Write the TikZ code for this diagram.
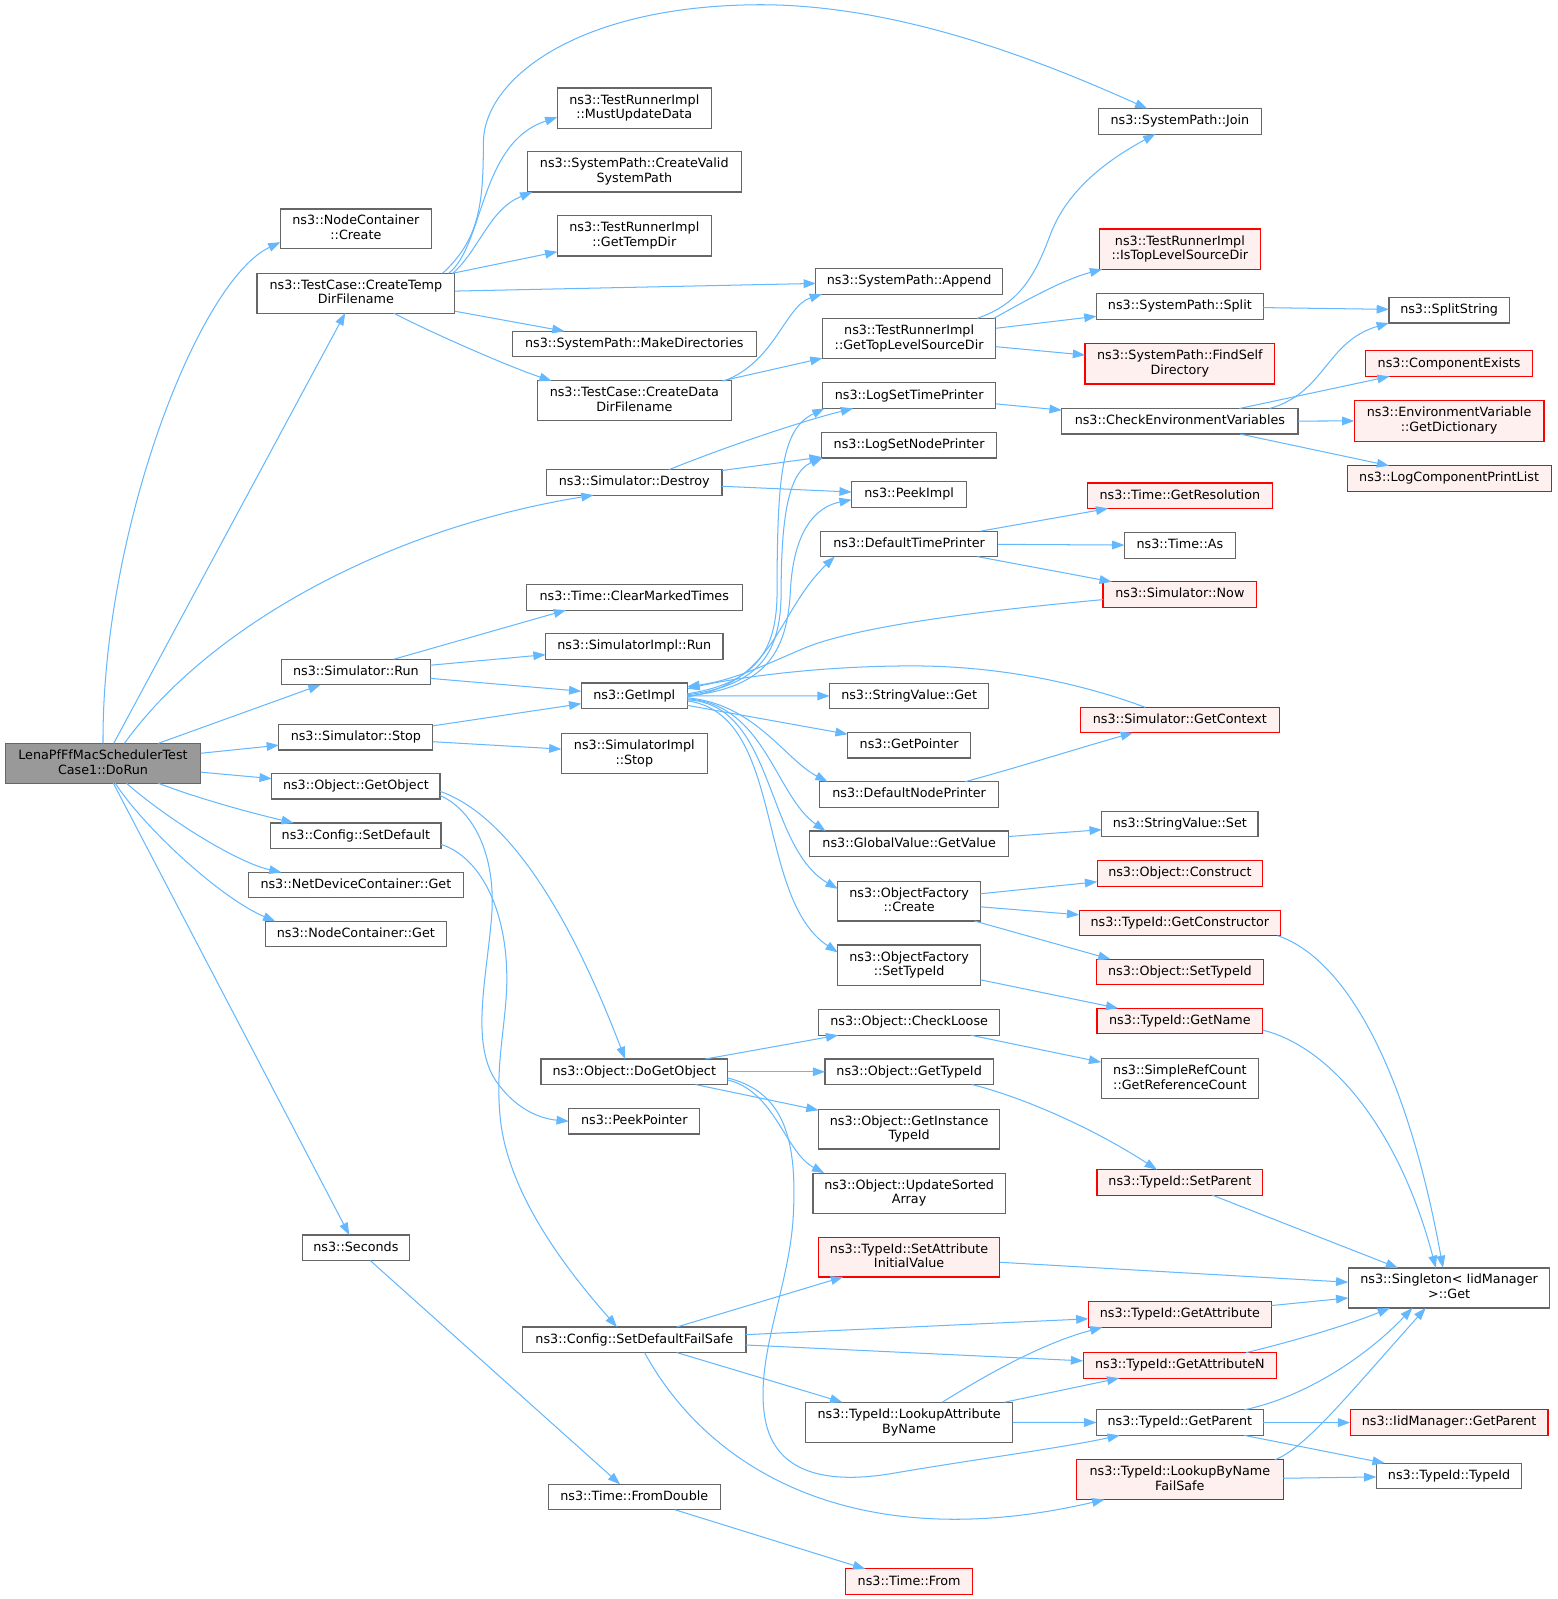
\documentclass[tikz,border=0pt]{standalone}
\usepackage{fontspec}
\setmainfont{DejaVu Sans}
\usetikzlibrary{arrows.meta}
\definecolor{edgec}{HTML}{63B8FF}
\definecolor{boxgray}{HTML}{666666}
\definecolor{boxred}{HTML}{FF0000}
\definecolor{redfill}{HTML}{FFF0F0}
\definecolor{rootfill}{HTML}{999999}
\tikzset{
  gbox/.style={rectangle, draw=boxgray, line width=1.1pt, fill=white, inner sep=0pt, outer sep=0pt,
    align=center, font=\fontsize{12.5}{14.5}\selectfont, text height=9.3pt, text depth=2.7pt},
  two/.style={text height=23.8pt, text depth=2.7pt},
  rbox/.style={gbox, draw=boxred, fill=redfill},
  rootbox/.style={gbox, fill=rootfill},
  conn/.style={draw=edgec, line width=1pt, -{Triangle[length=12pt,width=8.5pt]}},
}
\newcommand\dxnode[6]{\node[#1,minimum width=#4pt,minimum height=#5pt] (#2) at (#3) {#6};}
\begin{document}
\begin{tikzpicture}[x=1pt,y=-1pt]
\fill[white] (0,0) rectangle (1527,1568);
\useasboundingbox (0,0) rectangle (1527,1568);

% column 0/1
\dxnode{rootbox,two}{root}{101,748.5}{192}{39}{LenaPfFfMacSchedulerTest\\Case1::DoRun}
\dxnode{gbox,two}{ncc}{349,224.5}{148}{39}{ns3::NodeContainer\\::Create}
\dxnode{gbox,two}{ctmp}{349,287.5}{194}{39}{ns3::TestCase::CreateTemp\\DirFilename}
\dxnode{gbox}{srun}{349,659}{146}{25}{ns3::Simulator::Run}
\dxnode{gbox}{sstop}{349,723}{151}{25}{ns3::Simulator::Stop}
\dxnode{gbox}{gobj}{349,771}{165}{25}{ns3::Object::GetObject}
\dxnode{gbox}{sdef}{349,819.5}{167}{25}{ns3::Config::SetDefault}
\dxnode{gbox}{ndg}{349,868}{211}{25}{ns3::NetDeviceContainer::Get}
\dxnode{gbox}{ncg}{349,916}{178}{25}{ns3::NodeContainer::Get}
\dxnode{gbox}{secs}{349,1223.5}{105}{25}{ns3::Seconds}

% column 2
\dxnode{gbox,two}{mud}{622,106}{151}{39.5}{ns3::TestRunnerImpl\\::MustUpdateData}
\dxnode{gbox,two}{cvsp}{622,168.5}{210}{39.5}{ns3::SystemPath::CreateValid\\SystemPath}
\dxnode{gbox,two}{gtd}{622,231.3}{151}{39.5}{ns3::TestRunnerImpl\\::GetTempDir}
\dxnode{gbox}{mkd}{622,337.3}{239}{25}{ns3::SystemPath::MakeDirectories}
\dxnode{gbox,two}{cddf}{622,393}{190}{39}{ns3::TestCase::CreateData\\DirFilename}
\dxnode{gbox}{sdes}{622,473}{172}{25}{ns3::Simulator::Destroy}
\dxnode{gbox}{cmt}{622,585.8}{212}{25}{ns3::Time::ClearMarkedTimes}
\dxnode{gbox}{sirun}{622,634}{174}{25}{ns3::SimulatorImpl::Run}
\dxnode{gbox}{gimpl}{622,682.3}{104}{25}{ns3::GetImpl}
\dxnode{gbox,two}{sistop}{622,738.7}{143}{39.5}{ns3::SimulatorImpl\\::Stop}
\dxnode{gbox}{dgo}{622,1051}{183}{25}{ns3::Object::DoGetObject}
\dxnode{gbox}{ppt}{622,1099.5}{128.5}{25}{ns3::PeekPointer}
\dxnode{gbox}{sdfs}{622,1313.8}{219}{25}{ns3::Config::SetDefaultFailSafe}
\dxnode{gbox}{tfd}{622,1468}{169}{25}{ns3::Time::FromDouble}

% column 3
\dxnode{gbox}{app}{891.5,276}{183}{25}{ns3::SystemPath::Append}
\dxnode{gbox,two}{gtlsd}{891.5,332}{170}{39.5}{ns3::TestRunnerImpl\\::GetTopLevelSourceDir}
\dxnode{gbox}{lstp}{891.5,388}{170}{25}{ns3::LogSetTimePrinter}
\dxnode{gbox}{lsnp}{891.5,436.6}{171.6}{25}{ns3::LogSetNodePrinter}
\dxnode{gbox}{pki}{891.5,485}{112.7}{25}{ns3::PeekImpl}
\dxnode{gbox}{dtp}{891.5,533.3}{174}{25}{ns3::DefaultTimePrinter}
\dxnode{gbox}{svg}{891.5,682.5}{156}{25}{ns3::StringValue::Get}
\dxnode{gbox}{gptr}{891.5,730.8}{120.5}{25}{ns3::GetPointer}
\dxnode{gbox}{dnp}{891.5,779}{175}{25}{ns3::DefaultNodePrinter}
\dxnode{gbox}{ggv}{891.5,827.4}{195}{25}{ns3::GlobalValue::GetValue}
\dxnode{gbox,two}{ofc}{891.5,883.6}{140}{39}{ns3::ObjectFactory\\::Create}
\dxnode{gbox,two}{ofst}{891.5,946.4}{140}{39.5}{ns3::ObjectFactory\\::SetTypeId}
\dxnode{gbox}{chl}{891.5,1002.6}{177.7}{25}{ns3::Object::CheckLoose}
\dxnode{gbox}{ogt}{891.5,1051}{165}{25}{ns3::Object::GetTypeId}
\dxnode{gbox,two}{ogit}{891.5,1107.2}{177.7}{39}{ns3::Object::GetInstance\\TypeId}
\dxnode{gbox,two}{usa}{891.5,1170}{188.5}{39.3}{ns3::Object::UpdateSorted\\Array}
\dxnode{rbox,two}{tsaiv}{891.5,1232.7}{178}{39}{ns3::TypeId::SetAttribute\\InitialValue}
\dxnode{gbox,two}{tlabn}{891.5,1394.7}{203}{39.3}{ns3::TypeId::LookupAttribute\\ByName}
\dxnode{rbox}{tfrom}{891.5,1551}{124.3}{25}{ns3::Time::From}

% column 4
\dxnode{gbox}{join}{1157,119}{159.4}{25}{ns3::SystemPath::Join}
\dxnode{rbox,two}{itlsd}{1157,244.3}{158.5}{39.5}{ns3::TestRunnerImpl\\::IsTopLevelSourceDir}
\dxnode{gbox}{split}{1157,300.5}{163.5}{25}{ns3::SystemPath::Split}
\dxnode{rbox,two}{fsd}{1157,356.8}{186}{39.5}{ns3::SystemPath::FindSelf\\Directory}
\dxnode{gbox}{cev}{1157,413.1}{231.7}{25}{ns3::CheckEnvironmentVariables}
\dxnode{rbox}{gres}{1157,486.1}{181.7}{25}{ns3::Time::GetResolution}
\dxnode{gbox}{tas}{1157,534.8}{108.7}{25}{ns3::Time::As}
\dxnode{rbox}{snow}{1157,583}{150.7}{25}{ns3::Simulator::Now}
\dxnode{rbox}{sgc}{1157,706.1}{195}{25}{ns3::Simulator::GetContext}
\dxnode{gbox}{svs}{1157,808}{153.2}{25}{ns3::StringValue::Set}
\dxnode{rbox}{ocon}{1157,856.4}{162.3}{25}{ns3::Object::Construct}
\dxnode{rbox}{tgc}{1157,905}{197.4}{25}{ns3::TypeId::GetConstructor}
\dxnode{rbox}{ost}{1157,953.1}{163.6}{25}{ns3::Object::SetTypeId}
\dxnode{rbox}{tgn}{1157,1001.2}{162.6}{25}{ns3::TypeId::GetName}
\dxnode{gbox,two}{srgc}{1157,1057.5}{154.4}{39.3}{ns3::SimpleRefCount\\::GetReferenceCount}
\dxnode{rbox}{tsp}{1157,1159.5}{162.6}{25}{ns3::TypeId::SetParent}
\dxnode{rbox}{tga}{1157,1289.1}{179.3}{25}{ns3::TypeId::GetAttribute}
\dxnode{rbox}{tgan}{1157,1338.9}{189.8}{25}{ns3::TypeId::GetAttributeN}
\dxnode{gbox}{tgp}{1157,1395}{163.6}{25}{ns3::TypeId::GetParent}
\dxnode{rbox,two}{tlbnfs}{1157,1451}{203}{39}{ns3::TypeId::LookupByName\\FailSafe}

% column 5
\dxnode{gbox}{sps}{1421,304.2}{118}{25}{ns3::SplitString}
\dxnode{rbox}{cex}{1421,356.6}{164}{25}{ns3::ComponentExists}
\dxnode{rbox,two}{evgd}{1421,412.6}{186}{40}{ns3::EnvironmentVariable\\::GetDictionary}
\dxnode{rbox}{lcpl}{1421,469.2}{200}{25}{ns3::LogComponentPrintList}
\dxnode{gbox,two}{sing}{1421,1263}{197.7}{39.3}{ns3::Singleton< IidManager\\>::Get}
\dxnode{rbox}{iigp}{1421,1395}{194}{25}{ns3::IidManager::GetParent}
\dxnode{gbox}{tti}{1421,1447.3}{142.7}{25}{ns3::TypeId::TypeId}

% ---- edges from root
\draw[conn] (root.north) .. controls (100,520) and (195,275) .. ([yshift=-13pt]ncc.west);
\draw[conn] (root) -- (ctmp);
\draw[conn] ([xshift=21pt]root.north) .. controls (200,620) and (370,520) .. ([xshift=-40pt]sdes.south);
\draw[conn] (root) -- (srun);
\draw[conn] (root) -- (sstop);
\draw[conn] (root) -- (gobj);
\draw[conn] ([xshift=54pt]root.south) .. controls (200,785) and (250,798) .. ([xshift=-61pt]sdef.north);
\draw[conn] ([xshift=23pt]root.south) .. controls (160,800) and (230,845) .. ([xshift=-73pt]ndg.north);
\draw[conn] ([xshift=12pt]root.south) .. controls (140,810) and (215,880) .. ([xshift=-79pt]ncg.north);
\draw[conn] (root) -- (secs);

% ---- CreateTempDirFilename
\draw[conn] ([xshift=85pt]ctmp.north) .. controls (470,235) and (474,200) .. (474,140)
   .. controls (474,80) and (560,10) .. (727,5) .. controls (860,0) and (1000,50) .. ([xshift=-32pt]join.north);
\draw[conn] ([xshift=91pt]ctmp.north) .. controls (475,240) and (470,140) .. ([yshift=-9pt]mud.west);
\draw[conn] ([xshift=95pt]ctmp.north) .. controls (470,245) and (480,205) .. ([xshift=5pt]cvsp.south west);
\draw[conn] (ctmp) -- (gtd);
\draw[conn] (ctmp) -- (app);
\draw[conn] (ctmp) -- (mkd);
\draw[conn] ([xshift=37pt]ctmp.south) .. controls (420,325) and (500,360) .. ([xshift=-81pt]cddf.north);

% ---- CreateDataDirFilename, GetTopLevelSourceDir
\draw[conn] ([xshift=88pt]cddf.north) .. controls (760,355) and (770,300) .. ([xshift=6pt]app.south west);
\draw[conn] (cddf) -- (gtlsd);
\draw[conn] ([xshift=66.5pt]gtlsd.north) .. controls (1000,298) and (1015,270) .. (1030,230)
   .. controls (1045,190) and (1080,160) .. ([xshift=-24pt]join.south);
\draw[conn] ([xshift=-2pt]gtlsd.north east) .. controls (1000,298) and (1040,275) .. ([xshift=3pt]itlsd.south west);
\draw[conn] (gtlsd) -- (split);
\draw[conn] (gtlsd) -- (fsd);
\draw[conn] (split) -- (sps);
\draw[conn] ([xshift=88pt]cev.north) .. controls (1300,385) and (1300,335) .. (sps.south west);
\draw[conn] (cev) -- (cex);
\draw[conn] (cev) -- (evgd);
\draw[conn] (cev) -- (lcpl);

% ---- Simulator::Destroy
\draw[conn] ([xshift=34pt]sdes.north) .. controls (720,435) and (790,412) .. ([xshift=-55pt]lstp.south);
\draw[conn] (sdes) -- (lsnp);
\draw[conn] (sdes) -- (pki);
\draw[conn] (lstp) -- (cev);

% ---- Simulator::Run / Stop
\draw[conn] ([xshift=37pt]srun.north) -- ([xshift=-67pt]cmt.south);
\draw[conn] (srun) -- (sirun);
\draw[conn] (srun) -- (gimpl);
\draw[conn] (sstop) -- (gimpl);
\draw[conn] (sstop) -- (sistop);

% ---- GetImpl fan
\draw[conn] ([yshift=2pt]gimpl.east) .. controls (740,670) and (762,640) .. (762,580)
   .. controls (762,460) and (768,420) .. ([xshift=2pt]lstp.south west);
\draw[conn] ([yshift=1pt]gimpl.east) .. controls (745,672) and (766,640) .. (766,580)
   .. controls (766,500) and (775,462) .. ([xshift=1pt]lsnp.south west);
\draw[conn] (gimpl.east) .. controls (750,675) and (772,640) .. (775,580)
   .. controls (778,520) and (800,497) .. ([yshift=-5pt]pki.west);
\draw[conn] ([yshift=-1pt]gimpl.east) .. controls (760,670) and (762,600) .. ([xshift=-73pt]dtp.south);
\draw[conn] (gimpl) -- (svg);
\draw[conn] (gimpl) -- (gptr);
\draw[conn] ([yshift=-2pt]gimpl.east) .. controls (740,690) and (770,745) .. ([xshift=-80pt]dnp.north);
\draw[conn] ([yshift=-3pt]gimpl.east) .. controls (750,690) and (760,780) .. ([xshift=-82pt]ggv.north);
\draw[conn] ([yshift=-4pt]gimpl.east) .. controls (760,690) and (750,830) .. ([yshift=12pt]ofc.west);
\draw[conn] ([yshift=-5pt]gimpl.east) .. controls (770,700) and (740,880) .. ([yshift=12.5pt]ofst.west);
\draw[conn] ([yshift=-5pt]snow.west) .. controls (950,600) and (840,615) .. (790,635)
   .. controls (750,652) and (720,667) .. ([yshift=9pt]gimpl.east);
\draw[conn] ([xshift=-34pt]sgc.north) .. controls (1060,670) and (980,653) .. (895,653)
   .. controls (800,653) and (720,665) .. ([yshift=7pt]gimpl.east);
\draw[conn] ([xshift=55pt]dnp.north) .. controls (1000,752) and (1060,733) .. ([xshift=-46pt]sgc.south);

% ---- DefaultTimePrinter etc.
\draw[conn] (dtp) -- (gres);
\draw[conn] (dtp) -- (tas);
\draw[conn] (dtp) -- (snow);
\draw[conn] (ggv) -- (svs);
\draw[conn] (ofc) -- (ocon);
\draw[conn] (ofc) -- (tgc);
\draw[conn] ([xshift=64pt]ofc.south) -- ([xshift=-68pt]ost.north);
\draw[conn] (ofst) -- (tgn);
\draw[conn] ([xshift=-3pt]tgc.south east) .. controls (1320,940) and (1380,1050) .. ([xshift=-6pt]sing.north);
\draw[conn] ([yshift=-9pt]tgn.east) .. controls (1300,1025) and (1370,1100) .. ([xshift=-13pt]sing.north);
\draw[conn] (tsp) -- (sing);
\draw[conn] ([xshift=61.5pt]ogt.south) .. controls (1000,1075) and (1070,1105) .. ([xshift=-22.5pt]tsp.north);
\draw[conn] (chl) -- (srgc);

% ---- GetObject, SetDefault, Seconds
\draw[conn] ([yshift=-5pt]gobj.east) .. controls (500,800) and (560,900) .. ([xshift=-9pt]dgo.north);
\draw[conn] ([yshift=-9pt]gobj.east) .. controls (465,795) and (487,840) .. (482,900)
   .. controls (477,960) and (462,1020) .. (485,1058) .. controls (505,1088) and (530,1097) .. (ppt.west);
\draw[conn] ([yshift=-8.5pt]sdef.east) .. controls (470,840) and (497,890) .. (497,960)
   .. controls (497,1000) and (486,1040) .. (490,1090) .. controls (495,1170) and (560,1250) .. ([xshift=-17pt]sdfs.north);
\draw[conn] (secs) -- (tfd);
\draw[conn] ([xshift=40pt]tfd.south) -- ([xshift=-43pt]tfrom.north);

% ---- DoGetObject
\draw[conn] (dgo) -- (chl);
\draw[conn] (dgo) -- (ogt);
\draw[conn] (dgo) -- (ogit);
\draw[conn] ([yshift=-8pt]dgo.east) .. controls (760,1070) and (770,1130) .. ([xshift=11pt]usa.north west);
\draw[conn] ([yshift=-6pt]dgo.east) .. controls (765,1070) and (782,1110) .. (778,1190)
   .. controls (775,1260) and (740,1330) .. (750,1390) .. controls (760,1450) and (820,1455) .. (880,1444)
   .. controls (950,1432) and (1040,1420) .. ([xshift=-59pt]tgp.south);

% ---- SetDefaultFailSafe
\draw[conn] (sdfs) -- (tsaiv);
\draw[conn] (sdfs) -- (tga);
\draw[conn] (sdfs) -- (tgan);
\draw[conn] (sdfs) -- (tlabn);
\draw[conn] ([xshift=10pt]sdfs.south) .. controls (700,1450) and (850,1525) .. ([xshift=-74pt]tlbnfs.south);

% ---- into Singleton
\draw[conn] (tsaiv) -- (sing);
\draw[conn] (tga) -- (sing);
\draw[conn] ([xshift=65pt]tgan.north) .. controls (1265,1316) and (1320,1300) .. ([xshift=-58pt]sing.south);
\draw[conn] ([xshift=63pt]tgp.north) .. controls (1280,1370) and (1340,1330) .. ([xshift=-36pt]sing.south);
\draw[conn] (tgp) -- (iigp);
\draw[conn] (tgp) -- (tti);
\draw[conn] ([xshift=93pt]tlbnfs.north) .. controls (1280,1420) and (1320,1370) .. ([xshift=-23pt]sing.south);
\draw[conn] (tlbnfs) -- (tti);

% ---- LookupAttributeByName
\draw[conn] ([xshift=32.5pt]tlabn.north) .. controls (980,1340) and (1030,1315) .. ([xshift=-76pt]tga.south);
\draw[conn] (tlabn) -- (tgan);
\draw[conn] (tlabn) -- (tgp);
\end{tikzpicture}
\end{document}
